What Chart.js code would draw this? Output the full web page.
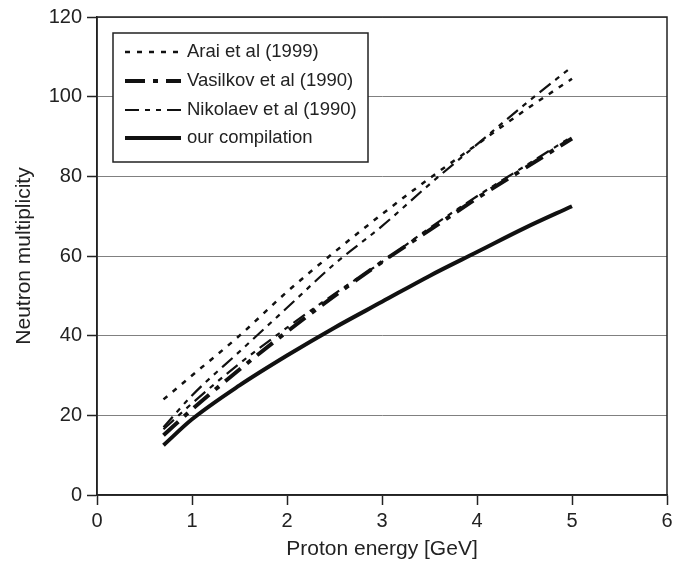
<!DOCTYPE html>
<html lang="en">
<head>
    <meta charset="UTF-8">
    <title>Neutron multiplicity</title>
    <script src="https://cdn.jsdelivr.net/npm/chart.js"></script>
    <style>
        body { margin: 0; background: #fff; }
        #wrap { width: 686px; height: 570px; }
    </style>
</head>
<body>
    <div id="wrap"><canvas id="chart"></canvas></div>

    <script>
        // Proton energy [GeV] sample points
        const energy = [0.7, 1, 1.5, 2, 2.5, 3, 3.5, 4, 4.5, 5];

        // Neutron multiplicity
        const arai = [24, 30, 40, 51, 61, 70.5, 79.5, 88, 96.5, 104.5];
        const vasilkov = [15, 21.5, 31.5, 41, 50, 58.5, 66.5, 74.5, 82, 89.5];
        const nikolaevUpper = [17, 25, 36, 47, 58, 67.5, 78, 88, 98, 107.5];
        const nikolaevLower = [16.5, 23, 33, 42, 50.5, 58.5, 67, 75, 82.5, 90];
        const compilation = [12.5, 19, 27.5, 35, 42, 48.5, 55, 61, 67, 72.5];

        const xTicks = [0, 1, 2, 3, 4, 5, 6];
        const yTicks = [0, 20, 40, 60, 80, 100, 120];

        const FONT = "'Liberation Sans', Arial, sans-serif";

        const toPoints = (ys) => ys.map((y, i) => ({ x: energy[i], y: y }));

        const lineBase = {
            borderColor: "#111",
            backgroundColor: "#111",
            pointRadius: 0,
            fill: false,
            cubicInterpolationMode: "monotone",
            borderCapStyle: "butt",
        };

        const datasets = [
            { ...lineBase, label: "Arai et al (1999)", data: toPoints(arai), borderWidth: 2.5, borderDash: [5, 7] },
            { ...lineBase, label: "Vasilkov et al (1990)", data: toPoints(vasilkov), borderWidth: 4, borderDash: [20, 8, 5, 8] },
            { ...lineBase, label: "Nikolaev et al (1990)", data: toPoints(nikolaevUpper), borderWidth: 2.2, borderDash: [14, 6, 5, 6, 5, 6] },
            { ...lineBase, label: "our compilation", data: toPoints(compilation), borderWidth: 4 },
            { ...lineBase, label: "Nikolaev et al (1990) b", hideInLegend: true, data: toPoints(nikolaevLower), borderWidth: 2.2, borderDash: [14, 6, 5, 6, 5, 6] },
        ];

        // box around the plot area
        const framePlugin = {
            id: "frame",
            afterDraw(chart) {
                const { ctx, chartArea: a } = chart;
                ctx.save();
                ctx.strokeStyle = "#222";
                ctx.lineWidth = 1.5;
                ctx.strokeRect(a.left, a.top, a.right - a.left, a.bottom - a.top);
                ctx.restore();
            },
        };

        // legend drawn inside the plot, upper left
        const legendPlugin = {
            id: "insideLegend",
            afterDraw(chart) {
                const ctx = chart.ctx;
                const box = { x: 113, y: 33, w: 255, h: 129 };
                ctx.save();
                ctx.fillStyle = "#fff";
                ctx.fillRect(box.x, box.y, box.w, box.h);
                ctx.strokeStyle = "#222";
                ctx.lineWidth = 1.5;
                ctx.strokeRect(box.x, box.y, box.w, box.h);

                const rows = [52, 81, 110, 138];
                let r = 0;
                chart.data.datasets.forEach((ds) => {
                    if (ds.hideInLegend) return;
                    const y = rows[r++];
                    ctx.beginPath();
                    ctx.setLineDash(ds.borderDash || []);
                    ctx.lineWidth = ds.borderWidth;
                    ctx.strokeStyle = ds.borderColor;
                    ctx.lineCap = "butt";
                    ctx.moveTo(125, y);
                    ctx.lineTo(181, y);
                    ctx.stroke();
                    ctx.setLineDash([]);
                    ctx.fillStyle = "#222";
                    ctx.font = "18.5px " + FONT;
                    ctx.textBaseline = "middle";
                    ctx.fillText(ds.label, 187, y);
                });
                ctx.restore();
            },
        };

        const ctx = document.getElementById("chart").getContext("2d");
        new Chart(ctx, {
            type: "line",
            data: { datasets: datasets },
            options: {
                responsive: true,
                maintainAspectRatio: false,
                animation: false,
                layout: { padding: { left: 0, top: 15, right: 19, bottom: 0 } },
                plugins: {
                    legend: { display: false },
                    tooltip: { enabled: false },
                },
                scales: {
                    x: {
                        type: "linear",
                        min: 0,
                        max: 6,
                        afterFit: (s) => { s.height = 75; },
                        afterBuildTicks: (s) => { s.ticks = xTicks.map((v) => ({ value: v })); },
                        ticks: { color: "#222", padding: 4, font: { family: FONT, size: 20 } },
                        grid: { drawOnChartArea: false, drawTicks: true, tickLength: 10, tickColor: "#222", tickWidth: 1.5 },
                        border: { display: true, color: "#222", width: 1.5 },
                        title: {
                            display: true,
                            text: "Proton energy [GeV]",
                            color: "#222",
                            font: { family: FONT, size: 21 },
                            padding: { top: 0, bottom: 8 },
                        },
                    },
                    y: {
                        min: 0,
                        max: 120,
                        afterFit: (s) => { s.width = 97; },
                        afterBuildTicks: (s) => { s.ticks = yTicks.map((v) => ({ value: v })); },
                        ticks: { color: "#222", padding: 5, font: { family: FONT, size: 20 } },
                        grid: { color: "#808080", lineWidth: 1, drawTicks: true, tickLength: 10, tickColor: "#222", tickWidth: 1.5 },
                        border: { display: true, color: "#222", width: 1.5 },
                        title: {
                            display: true,
                            text: "Neutron multiplicity",
                            color: "#222",
                            font: { family: FONT, size: 21 },
                            padding: { top: 12, bottom: 0 },
                        },
                    },
                },
            },
            plugins: [framePlugin, legendPlugin],
        });
    </script>
</body>
</html>
